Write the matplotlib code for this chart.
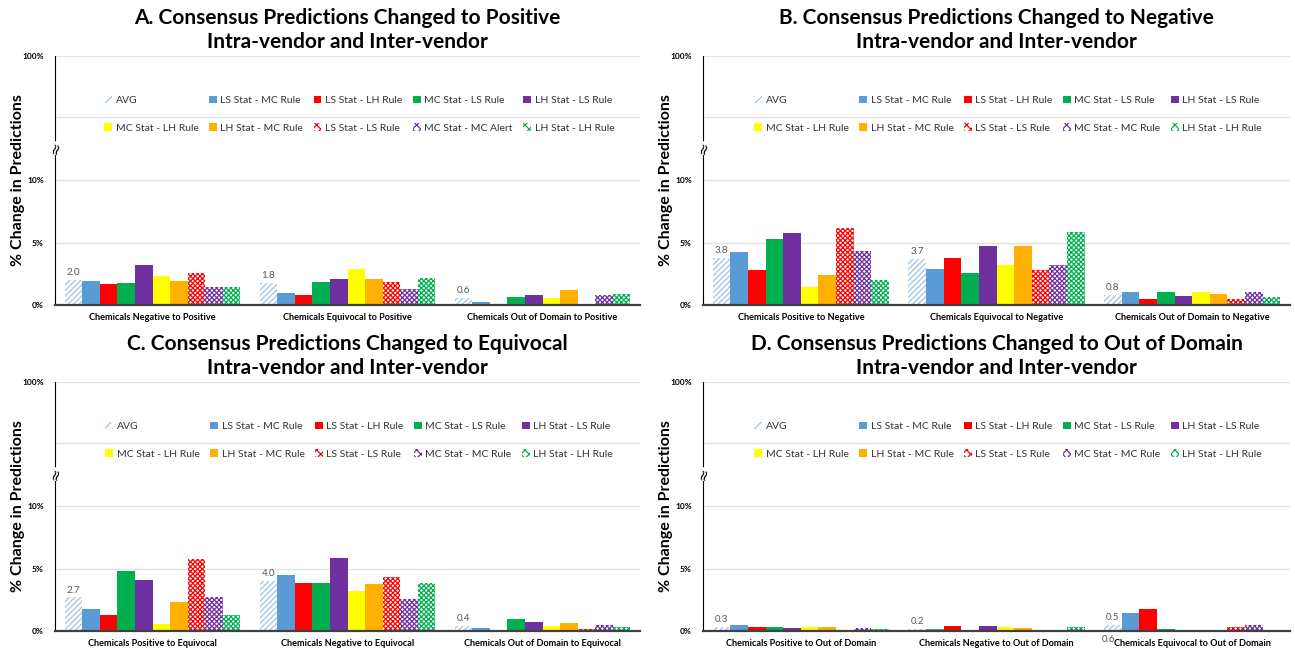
import numpy as np
import matplotlib.pyplot as plt
from matplotlib.patches import Patch

plt.rcParams['font.family'] = ['Lato', 'DejaVu Sans']
plt.rcParams['hatch.linewidth'] = 0.9

# series shown in every panel (last-but-one name differs in panel A)
series = ['AVG', 'LS Stat - MC Rule', 'LS Stat - LH Rule', 'MC Stat - LS Rule', 'LH Stat - LS Rule',
          'MC Stat - LH Rule', 'LH Stat - MC Rule', 'LS Stat - LS Rule', 'MC Stat - MC Rule', 'LH Stat - LH Rule']
series_a = series[:8] + ['MC Stat - MC Alert', 'LH Stat - LH Rule']
colors = ['#9DC3E6', '#5B9BD5', '#FF0000', '#00B050', '#7030A0',
          '#FFFF00', '#FFB000', '#FF0000', '#7030A0', '#00B050']
hatches = ['//////', None, None, None, None, None, None, 'xxxxxxx', 'xxxxxxx', 'xxxxxxx']

titles = ['A. Consensus Predictions Changed to Positive',
          'B. Consensus Predictions Changed to Negative',
          'C. Consensus Predictions Changed to Equivocal',
          'D. Consensus Predictions Changed to Out of Domain']
subtitle = 'Intra-vendor and Inter-vendor'

cats_a = ['Chemicals Negative to Positive', 'Chemicals Equivocal to Positive', 'Chemicals Out of Domain to Positive']
cats_b = ['Chemicals Positive to Negative', 'Chemicals Equivocal to Negative', 'Chemicals Out of Domain to Negative']
cats_c = ['Chemicals Positive to Equivocal', 'Chemicals Negative to Equivocal', 'Chemicals Out of Domain to Equivocal']
cats_d = ['Chemicals Positive to Out of Domain', 'Chemicals Negative to Out of Domain', 'Chemicals Equivocal to Out of Domain']

# % change, one row per category, columns in the order of `series`
vals_a = [[2.0, 1.95, 1.70, 1.73, 3.24, 2.31, 1.94, 2.53, 1.44, 1.46],
          [1.76, 0.98, 0.80, 1.86, 2.07, 2.87, 2.07, 1.81, 1.25, 2.13],
          [0.6, 0.27, 0.0, 0.66, 0.82, 0.60, 1.20, 0.05, 0.80, 0.88]]
vals_b = [[3.8, 4.24, 2.80, 5.25, 5.73, 1.47, 2.40, 6.19, 4.29, 2.00],
          [3.7, 2.85, 3.73, 2.59, 4.75, 3.20, 4.75, 2.80, 3.20, 5.81],
          [0.8, 1.07, 0.45, 1.01, 0.72, 1.01, 0.91, 0.45, 1.01, 0.61]]
vals_c = [[2.7, 1.74, 1.28, 4.81, 4.09, 0.59, 2.33, 5.75, 2.70, 1.26],
          [4.0, 4.49, 3.82, 3.82, 5.88, 3.21, 3.74, 4.36, 2.59, 3.82],
          [0.43, 0.24, 0.0, 0.94, 0.75, 0.37, 0.64, 0.20, 0.48, 0.29]]
vals_d = [[0.3, 0.45, 0.30, 0.32, 0.27, 0.32, 0.30, 0.0, 0.24, 0.19],
          [0.2, 0.15, 0.40, 0.05, 0.37, 0.30, 0.21, 0.08, 0.03, 0.30],
          [0.48, 1.47, 1.79, 0.16, 0.10, 0.05, 0.05, 0.30, 0.48, 0.06]]
stray_label_d = '0.6'

W, H = 1295, 656
fig = plt.figure(figsize=(W / 100, H / 100), dpi=100)

bw = 0.09
low_top = 12.9
grid_c = '#E3E3E3'


def draw_panel(left, right, y0, title, cats, vals, names, stray=None):
    lo_h, hi_h = 161, 88
    ax = fig.add_axes([left / W, 1 - y0 / H, (right - left) / W, lo_h / H])
    axt = fig.add_axes([left / W, 1 - (y0 - lo_h) / H, (right - left) / W, hi_h / H])
    vals = np.array(vals)
    x = np.arange(len(cats))
    for i in range(len(series)):
        if hatches[i]:
            bars = ax.bar(x + (i - 4.5) * bw, vals[:, i], bw, facecolor='white',
                          edgecolor=colors[i], hatch=hatches[i], linewidth=0, zorder=3)
        else:
            bars = ax.bar(x + (i - 4.5) * bw, vals[:, i], bw, color=colors[i], linewidth=0, zorder=3)
        if i == 0:
            for b, v in zip(bars, vals[:, 0]):
                ax.annotate(f'{v:.1f}', (b.get_x() + b.get_width() / 2, v), xytext=(0, 2),
                            textcoords='offset points', ha='center', va='bottom',
                            fontsize=7, color='#555555', zorder=4)
    if stray:
        ax.annotate(stray, (x[2] - 4.5 * bw, 0), xytext=(-3, -3), textcoords='offset points',
                    ha='center', va='top', fontsize=7, color='#555555', annotation_clip=False)

    ax.set_xlim(-0.5, len(cats) - 0.5)
    ax.set_ylim(0, low_top)
    ax.set_yticks([0, 5, 10])
    ax.set_yticklabels(['0%', '5%', '10%'])
    ax.set_xticks(x)
    ax.set_xticklabels(cats)
    ax.tick_params(axis='x', length=0, pad=6, labelsize=6.6)
    ax.tick_params(axis='y', length=0, pad=8, labelsize=6)
    for lab in ax.get_xticklabels() + ax.get_yticklabels():
        lab.set_fontweight('bold')
    ax.grid(axis='y', color=grid_c, linewidth=1, zorder=0)
    ax.spines[['top', 'right']].set_visible(False)
    ax.spines['bottom'].set_color('#404040')
    ax.spines['bottom'].set_linewidth(1.6)
    ax.spines['bottom'].set_zorder(5)
    ax.spines['left'].set_color('black')

    axt.set_xlim(-0.5, len(cats) - 0.5)
    axt.set_ylim(85.6, 100)
    axt.set_yticks([90, 100])
    axt.set_yticklabels(['', '100%'])
    axt.set_xticks([])
    axt.tick_params(axis='y', length=0, pad=8, labelsize=6)
    for lab in axt.get_yticklabels():
        lab.set_fontweight('bold')
    axt.grid(axis='y', color=grid_c, linewidth=1, zorder=0)
    axt.set_axisbelow(True)
    axt.spines[['top', 'right', 'bottom']].set_visible(False)
    axt.spines['left'].set_color('black')
    axt.patch.set_alpha(0)

    # axis break mark
    fig.text(left / W, 1 - (y0 - lo_h + 4) / H, '≈', rotation=75, ha='center', va='center',
             fontsize=11, family='DejaVu Sans',
             bbox=dict(facecolor='white', edgecolor='none', pad=0.2))

    handles = []
    for i in range(len(series)):
        if hatches[i]:
            handles.append(Patch(facecolor='white', edgecolor=colors[i], hatch=hatches[i][:4], linewidth=0))
        else:
            handles.append(Patch(facecolor=colors[i], linewidth=0))
    order = [0, 5, 1, 6, 2, 7, 3, 8, 4, 9]
    axt.legend([handles[k] for k in order], [names[k] for k in order], ncol=5, loc='center',
               bbox_to_anchor=(0.52, 0.34), frameon=False, fontsize=7.5,
               handlelength=0.75, handleheight=0.75, handletextpad=0.35,
               columnspacing=1.0, labelspacing=1.75, labelcolor='#333333')

    cx = (left + right) / 2 / W
    fig.text(cx, 1 - (y0 - 287) / H, title, ha='center', va='center', fontsize=15, fontweight='bold')
    fig.text(cx, 1 - (y0 - 263) / H, subtitle, ha='center', va='center', fontsize=15, fontweight='bold')
    fig.text((left - 37) / W, 1 - (y0 - 125) / H, '% Change in Predictions', rotation=90,
             ha='center', va='center', fontsize=11.5, fontweight='bold')


draw_panel(55, 640, 305, titles[0], cats_a, vals_a, series_a)
draw_panel(703, 1290, 305, titles[1], cats_b, vals_b, series)
draw_panel(55, 640, 631, titles[2], cats_c, vals_c, series)
draw_panel(703, 1290, 631, titles[3], cats_d, vals_d, series, stray=stray_label_d)

fig.savefig('out.png', dpi=100, facecolor='white')
